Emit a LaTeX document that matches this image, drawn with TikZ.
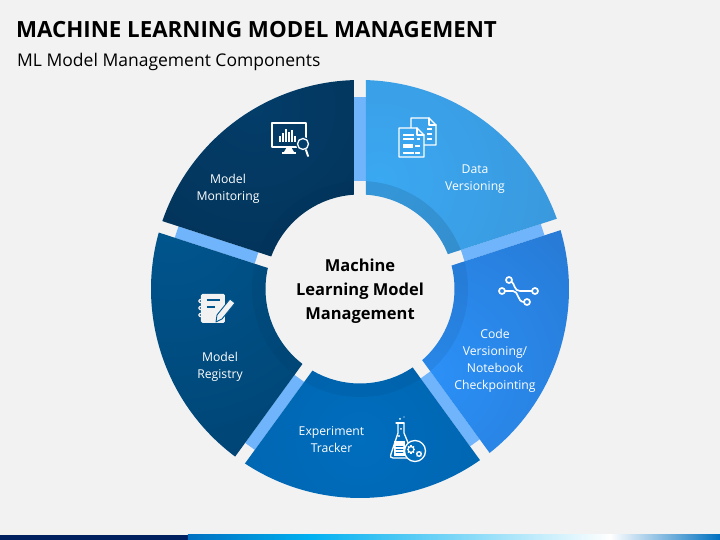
\documentclass[tikz,border=0pt]{standalone}
\usepackage{fontspec}
\setmainfont{Open Sans}
\usepackage{tikz}
\definecolor{pagebg}{HTML}{F2F2F2}
\definecolor{barlight}{HTML}{70B4FB}
\definecolor{dataA}{HTML}{3AA8F2}
\definecolor{dataB}{HTML}{3A93D5}
\definecolor{codeA}{HTML}{2B90F7}
\definecolor{codeB}{HTML}{2672C8}
\definecolor{expA}{HTML}{006DBD}
\definecolor{expB}{HTML}{0060A8}
\definecolor{regA}{HTML}{00568F}
\definecolor{regB}{HTML}{00416F}
\definecolor{monA}{HTML}{033D69}
\definecolor{monB}{HTML}{022C4D}
\definecolor{footdark}{HTML}{002060}
\definecolor{footblue}{HTML}{0070C0}
\definecolor{footcyan}{HTML}{00B0F0}
\tikzset{
	seglabel/.style={text=white,font=\fontsize{12.2}{17}\selectfont,align=center},
	iconline/.style={draw=white,line width=1.3pt,line join=round,line cap=round},
}
\begin{document}
\begin{tikzpicture}[x=1pt,y=1pt]
	\useasboundingbox (-360,-251) rectangle (360,289);
	\fill[pagebg] (-360,-251) rectangle (360,289);
	% footer
	\fill[footdark] (-360,-251) rectangle (-172,-246);
	\shade[left color=footblue,right color=footcyan] (-172,-251) rectangle (-50,-246);
	\shade[left color=footcyan,right color=white] (-50,-251) rectangle (250,-246);
	\shade[left color=white,right color=footblue] (250,-251) rectangle (360,-246);
	% bars in the gaps
	\foreach \a/\s in {90/0,18/0,-54/2.5,-126/3.5,162/2.5}{
		\fill[barlight,rotate=\a] (108,\s-6) rectangle (192,\s+6);
	}
	% segments
	\foreach \a/\ca/\cb/\spot/\rad/\oa/\ob/\band in {90/dataA/dataB/80:110/250/6/6/0.1,18/codeA/codeB/-50:110/270/6/8.5/0.06,-54/expA/expB/-90:150/240/3.5/9.5/0.05,-126/regA/regB/160:200/300/2.5/8.5/0.04,162/monA/monB/120:210/300/3.5/6/0.02}{
		\pgfmathsetmacro{\aO}{\a-asin(\oa/209)}
		\pgfmathsetmacro{\bO}{\a-72+asin(\ob/209)}
		\pgfmathsetmacro{\aI}{\a-asin(\oa/94.5)}
		\pgfmathsetmacro{\bI}{\a-72+asin(\ob/94.5)}
		\begin{scope}
			\clip (\aO:209) arc[start angle=\aO,end angle=\bO,radius=209]
				-- (\bI:94.5) arc[start angle=\bI,end angle=\aI,radius=94.5] -- cycle;
			\shade[inner color=\ca,outer color=\cb] (\spot) circle (\rad);
			\fill[black,opacity=\band,even odd rule] (0,0) circle (108) circle (94);
		\end{scope}
	}
	% title
	\node[anchor=west,inner sep=0pt,font=\fontsize{22.3}{28}\selectfont\bfseries] (title) at (-344,259) {MACHINE LEARNING MODEL MANAGEMENT};
	\node[anchor=west,inner sep=0pt,font=\fontsize{17.5}{20}\selectfont] (subtitle) at (-343,227.5) {ML Model Management Components};
	% labels
	\node[align=center,font=\fontsize{16.5}{24}\selectfont\bfseries] (hub) at (0,-2) {Machine\\Learning Model\\Management};
	\node[seglabel] (data) at (115,110) {Data\\Versioning};
	\node[seglabel] (code) at (135,-72) {Code\\Versioning/\\Notebook\\Checkpointing};
	\node[seglabel] (exp) at (-28.5,-151) {Experiment\\Tracker};
	\node[seglabel] (reg) at (-140,-78) {Model\\Registry};
	\node[seglabel] (mon) at (-132,100) {Model\\Monitoring};
	% icon: documents
	\begin{scope}[shift={(39,132)}]
		\draw[iconline] (12,29) -- (12,39) -- (30,39) -- (37,32) -- (37,12) -- (25,12);
		\draw[iconline] (30,39) -- (30,32) -- (37,32);
		\fill[dataA!85!dataB] (0,0) rectangle (25,29);
		\draw[iconline] (0,29) -- (18,29) -- (25,22) -- (25,0) -- (0,0) -- cycle;
		\draw[iconline] (18,29) -- (18,22) -- (25,22);
		\foreach \y in {22,18,4}{
			\draw[white,line width=1.1pt] (4,\y) -- (15,\y);
		}
		\fill[white] (4,9) rectangle (14,13);
		\draw[white,line width=1.1pt] (16,11) -- (21,11) (16,4) -- (21,4) (18,18) -- (21,18);
		\draw[white,line width=1.1pt] (28,28) -- (33,28) (28,23) -- (33,23) (28,18) -- (33,18);
	\end{scope}
	% icon: monitor
	\begin{scope}[shift={(-88,142)}]
		\draw[iconline] (0,0) rectangle (34,24);
		\fill[white] (12,-5) -- (22,-5) -- (19,0) -- (15,0) -- cycle;
		\fill[white] (10,-7) rectangle (24,-5);
		\foreach \x/\h in {8/6,11/9,14/13,17/10,20/12,23/6,26/2}{
			\draw[white,line width=1.6pt] (\x,5) -- (\x,5+\h);
		}
		\fill[monA] (31,3) circle (7);
		\draw[iconline] (31,3) circle (5.5);
		\draw[white,line width=2pt,line cap=round] (34,-3) -- (36,-9);
	\end{scope}
	% icon: branches
	\begin{scope}[shift={(142,-2)},iconline,line width=1.7pt]
		\draw (7,11) circle (3);
		\draw (0,0) circle (3);
		\draw (33,0) circle (3);
		\draw (25,-11) circle (3);
		\draw (9.5,9.5) .. controls (13,7) and (12,0) .. (18,0) -- (30,0);
		\draw (3,0) -- (11,0) .. controls (17,0) and (15,-11) .. (22,-11);
	\end{scope}
	% icon: flask with gears
	\begin{scope}[shift={(40,-168)},iconline]
		\draw (-2,34) -- (-2,24) -- (-9,3) .. controls (-10,0) and (-9,-1) .. (-7,-1) -- (9,-1);
		\draw (-4,34) -- (4,34);
		\draw (4,34) -- (4,24) -- (9,12);
		\fill[white] (-6,1) rectangle (5,16);
		\foreach \y in {5,8,11}{
			\draw[expA,line width=0.8pt] (-4,\y) -- (3,\y);
		}
		\fill[white] (-1,21) circle (1.2) (1,28) circle (1);
		\fill[white] (0,38) circle (1) (4,40) circle (0.7);
		\draw[fill=expA] (15,6) circle (10.5);
		\draw (11,7.5) circle (3) (19,3) circle (2.2);
		\foreach \r in {0,45,...,315}{
			\fill[white,rotate around={\r:(11,7.5)}] (10.4,10.2) rectangle (11.6,11.8);
			\fill[white,rotate around={\r:(19,3)}] (18.5,4.8) rectangle (19.5,6.2);
		}
	\end{scope}
	% icon: notebook with pencil
	\begin{scope}[shift={(-159,-34)}]
		\fill[pagebg,rounded corners=1.5pt] (0,0) rectangle (24,29);
		\foreach \y in {8,15,22}{
			\draw[pagebg,line width=1.4pt,rounded corners=1pt] (2,\y+1.5) -- (-2,\y+1.5) -- (-2,\y-1.5) -- (2,\y-1.5);
		}
		\draw[regA,line width=1.2pt] (6,23) -- (19,23) (6,16) -- (14,16);
		\draw[fill=pagebg,draw=regA,line width=0.9pt,line join=round] (15,1) -- (16,8) -- (29,24) -- (34,20) -- (21,4) -- cycle;
	\end{scope}
\end{tikzpicture}
\end{document}
